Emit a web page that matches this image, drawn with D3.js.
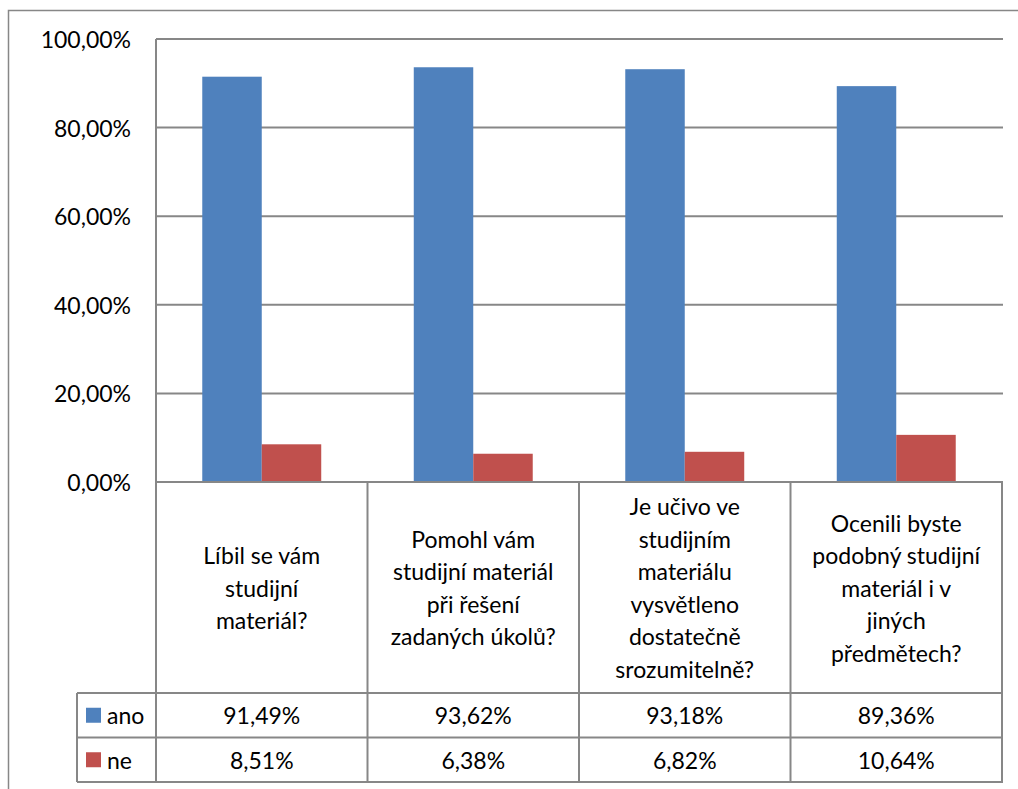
<!DOCTYPE html>
<html>
<head>
<meta charset="utf-8">
<script src="https://cdn.jsdelivr.net/npm/d3@7"></script>
<style>
  html, body { margin: 0; padding: 0; background: #fff; }
  svg { display: block; }
  text { font-family: Lato, "Open Sans", "DejaVu Sans", sans-serif; fill: #000; }
</style>
</head>
<body>
<svg id="chart" width="1018" height="789"></svg>
<script>
// Survey questions (line breaks as shown in the table header cells)
const categories = [
  "Líbil se vám\nstudijní\nmateriál?",
  "Pomohl vám\nstudijní materiál\npři řešení\nzadaných úkolů?",
  "Je učivo ve\nstudijním\nmateriálu\nvysvětleno\ndostatečně\nsrozumitelně?",
  "Ocenili byste\npodobný studijní\nmateriál i v\njiných\npředmětech?"
];
const seriesNames = ["ano", "ne"];
const anoValues = [0.9149, 0.9362, 0.9318, 0.8936];
const neValues = [0.0851, 0.0638, 0.0682, 0.1064];
const yTicks = [0, 0.2, 0.4, 0.6, 0.8, 1.0];
const seriesColors = ["#4F81BD", "#C0504D"];

const series = [
  { name: seriesNames[0], values: anoValues, color: seriesColors[0] },
  { name: seriesNames[1], values: neValues, color: seriesColors[1] }
];

const svg = d3.select("#chart");
const lineColor = "#878787";
const fontSize = 23;

// layout
const plotLeft = 156, plotRight = 1002, plotTop = 39, plotBottom = 482;
const headerBottom = 693;
const rowH = 44.5;
const legendLeft = 77;

// Czech number format: comma decimal separator
const czLocale = d3.formatLocale({ decimal: ",", thousands: " ", grouping: [3], currency: ["", " Kč"] });
const fmtPct = czLocale.format(".2%");

const x = d3.scaleBand().domain(d3.range(categories.length)).range([plotLeft, plotRight]).padding(0);
const groupW = x.bandwidth() * 0.5625;
const xInner = d3.scaleBand().domain(seriesNames).range([0, groupW]).padding(0);
const y = d3.scaleLinear().domain([0, 1]).range([plotBottom, plotTop]);

// outer chart frame
svg.append("rect")
  .attr("x", 8.5).attr("y", 10.5)
  .attr("width", 1030).attr("height", 800)
  .attr("fill", "none").attr("stroke", lineColor).attr("stroke-width", 1.5);

// horizontal gridlines
svg.append("g").selectAll("line").data(yTicks.filter(t => t > 0)).join("line")
  .attr("x1", plotLeft).attr("x2", plotRight + 1)
  .attr("y1", d => y(d)).attr("y2", d => y(d))
  .attr("stroke", lineColor).attr("stroke-width", 2);

// y axis tick labels
svg.append("g").selectAll("text").data(yTicks).join("text")
  .attr("x", 131).attr("y", d => y(d))
  .attr("text-anchor", "end").attr("dominant-baseline", "central")
  .attr("font-size", fontSize)
  .text(d => fmtPct(d));

// bars
const groups = svg.append("g").selectAll("g").data(series).join("g")
  .attr("fill", d => d.color);
groups.selectAll("rect").data(s => s.values.map((v, i) => ({ s, v, i }))).join("rect")
  .attr("x", d => x(d.i) + (x.bandwidth() - groupW) / 2 + xInner(d.s.name))
  .attr("width", xInner.bandwidth())
  .attr("y", d => y(d.v))
  .attr("height", d => y(0) - y(d.v));

// data table grid
const tableBottom = headerBottom + rowH * series.length;
const grid = svg.append("g").attr("stroke", lineColor).attr("stroke-width", 2).attr("fill", "none");
// category axis / top of table
grid.append("line").attr("x1", plotLeft).attr("x2", plotRight + 1).attr("y1", plotBottom).attr("y2", plotBottom);
// vertical axis line through the table
grid.append("line").attr("x1", plotLeft).attr("x2", plotLeft).attr("y1", plotTop).attr("y2", tableBottom);
// column separators
grid.selectAll("line.col").data(d3.range(1, categories.length + 1)).join("line").attr("class", "col")
  .attr("x1", i => i < categories.length ? x(i) : plotRight)
  .attr("x2", i => i < categories.length ? x(i) : plotRight)
  .attr("y1", plotBottom).attr("y2", tableBottom);
// row lines
grid.selectAll("line.row").data(d3.range(series.length + 1)).join("line").attr("class", "row")
  .attr("x1", legendLeft).attr("x2", plotRight + 1)
  .attr("y1", r => headerBottom + r * rowH).attr("y2", r => headerBottom + r * rowH);
grid.append("line").attr("x1", legendLeft).attr("x2", legendLeft).attr("y1", headerBottom).attr("y2", tableBottom);

// category header text
const lineH = 32.5;
svg.append("g").selectAll("text").data(categories).join("text")
  .attr("text-anchor", "middle").attr("font-size", fontSize)
  .each(function (d, i) {
    const lines = d.split("\n");
    const cx = x(i) + x.bandwidth() / 2;
    const cy = (plotBottom + headerBottom) / 2;
    const t0 = cy - (lines.length - 1) * lineH / 2;
    d3.select(this).selectAll("tspan").data(lines).join("tspan")
      .attr("x", cx).attr("y", (l, k) => t0 + k * lineH)
      .attr("dominant-baseline", "central")
      .text(l => l);
  });

// legend keys and values rows
series.forEach((s, r) => {
  const cy = headerBottom + r * rowH + rowH / 2;
  svg.append("rect").attr("x", 86).attr("y", cy - 7.5).attr("width", 15).attr("height", 15).attr("fill", s.color);
  svg.append("text").attr("x", 107).attr("y", cy).attr("dominant-baseline", "central")
    .attr("font-size", fontSize).text(s.name);
  svg.append("g").selectAll("text").data(s.values).join("text")
    .attr("x", (v, i) => x(i) + x.bandwidth() / 2).attr("y", cy)
    .attr("text-anchor", "middle").attr("dominant-baseline", "central")
    .attr("font-size", fontSize)
    .text(v => fmtPct(v));
});
</script>
</body>
</html>
